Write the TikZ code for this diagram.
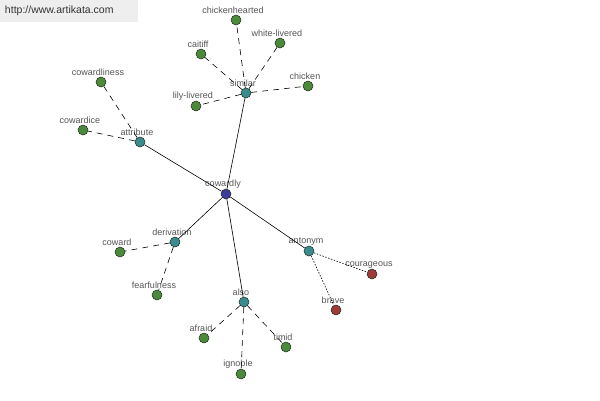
\documentclass[tikz,border=0pt]{standalone}
\usepackage{fontspec}
\setmainfont{Liberation Sans}
\usepackage{xcolor}
\usetikzlibrary{calc}
\definecolor{root}{HTML}{3D3D9A}
\definecolor{hub}{HTML}{3A8C8C}
\definecolor{leaf}{HTML}{4A8A3A}
\definecolor{anti}{HTML}{9E3A3A}
\definecolor{rim}{HTML}{1E2A1E}
\definecolor{txt}{HTML}{555555}
\definecolor{mark}{HTML}{EEEEEE}
\tikzset{
  word/.style={circle, draw=rim, line width=0.5pt, minimum size=10pt, inner sep=0pt},
  rootw/.style={word, fill=root},
  hubw/.style={word, fill=hub},
  leafw/.style={word, fill=leaf},
  antiw/.style={word, fill=anti},
  lab/.style={text=txt, font=\fontsize{9}{10}\selectfont, inner sep=0.5pt, xshift=-3pt},
  rel/.style={draw=black, line width=0.6pt},
  syn/.style={draw=black, line width=0.6pt, dash pattern=on 6pt off 5pt},
  opp/.style={draw=black, line width=0.6pt, dash pattern=on 1.5pt off 1.5pt},
}
\begin{document}
\begin{tikzpicture}[x=1pt,y=-1pt]
  \useasboundingbox (0,0) rectangle (600,400);
  \fill[white] (0,0) rectangle (600,400);
  % site mark
  \node[fill=mark, minimum width=138pt, minimum height=22pt, inner sep=0pt, inner xsep=5pt,
        text width=128pt, align=left, font=\fontsize{10.5}{12}\selectfont, text=black!80] (site) at (69,11) {http://www.artikata.com};
  % centre and relations
  \node[rootw, label={[lab]above:cowardly}] (cowardly) at (226,194) {};
  \node[hubw, label={[lab]above:similar}] (similar) at (246,93) {};
  \node[hubw, label={[lab]above:attribute}] (attribute) at (140,142) {};
  \node[hubw, label={[lab]above:derivation}] (derivation) at (175,242) {};
  \node[hubw, label={[lab]above:also}] (also) at (244,302) {};
  \node[hubw, label={[lab]above:antonym}] (antonym) at (309,251) {};
  % words
  \node[leafw, label={[lab]above:chickenhearted}] (chickenhearted) at (236,20) {};
  \node[leafw, label={[lab]above:white-livered}] (whitelivered) at (280,43) {};
  \node[leafw, label={[lab]above:caitiff}] (caitiff) at (201,54) {};
  \node[leafw, label={[lab]above:chicken}] (chicken) at (308,86) {};
  \node[leafw, label={[lab]above:lily-livered}] (lilylivered) at (196,106) {};
  \node[leafw, label={[lab]above:cowardliness}] (cowardliness) at (101,82) {};
  \node[leafw, label={[lab]above:cowardice}] (cowardice) at (83,130) {};
  \node[leafw, label={[lab]above:coward}] (coward) at (120,252) {};
  \node[leafw, label={[lab]above:fearfulness}] (fearfulness) at (157,295) {};
  \node[leafw, label={[lab]above:afraid}] (afraid) at (204,338) {};
  \node[leafw, label={[lab]above:ignoble}] (ignoble) at (241,374) {};
  \node[leafw, label={[lab]above:timid}] (timid) at (286,347) {};
  \node[antiw, label={[lab]above:courageous}] (courageous) at (372,274) {};
  \node[antiw, label={[lab]above:brave}] (brave) at (336,310) {};
  % links
  \foreach \h in {similar,attribute,derivation,also,antonym}
    \draw[rel] (cowardly) -- (\h);
  \foreach \w in {chickenhearted,whitelivered,caitiff,chicken,lilylivered}
    \draw[syn] (similar) -- (\w);
  \foreach \w in {cowardliness,cowardice}
    \draw[syn] (attribute) -- (\w);
  \foreach \w in {coward,fearfulness}
    \draw[syn] (derivation) -- (\w);
  \foreach \w in {afraid,ignoble,timid}
    \draw[syn] (also) -- (\w);
  \foreach \w in {courageous,brave}
    \draw[opp] (antonym) -- (\w);
\end{tikzpicture}
\end{document}
